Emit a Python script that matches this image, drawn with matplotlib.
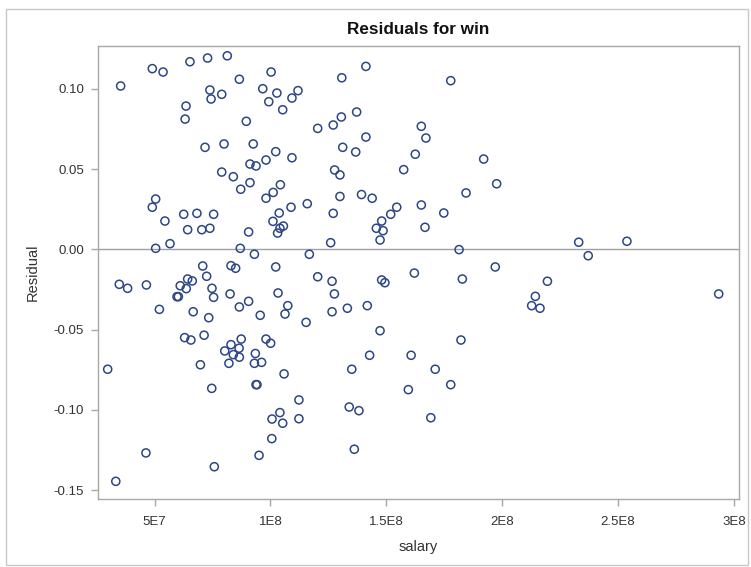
import numpy as np
import matplotlib
matplotlib.use('Agg')
import matplotlib.pyplot as plt
from matplotlib.patches import Rectangle

# %% data (salary in millions)

salary_m = [35.4, 49.05, 53.7, 65.3, 72.9, 81.4, 73.9, 74.4, 79.0, 63.6,
            63.2, 71.8, 80.0, 79.0, 50.5, 49.05,
            100.3, 86.6, 130.8, 96.7, 102.8, 99.3, 111.9, 109.3, 105.3, 89.6,
            120.4, 127.1, 130.6, 92.6, 131.2, 102.3, 98.1, 109.3, 91.2, 93.8,
            84.0, 127.7, 130.0, 91.2, 87.2, 104.3, 101.2, 98.1, 130.0, 115.9,
            108.9, 127.1, 103.8, 101.1, 105.6, 104.1, 103.1, 90.6, 126.0, 87.0,
            93.1, 116.8, 83.0, 85.0, 102.3, 120.4, 126.6, 82.6, 103.3, 127.6,
            90.6, 86.6, 107.5, 106.3, 95.6, 126.6, 133.2, 115.4, 87.4, 83.0,
            86.5, 98.1, 100.1, 80.3, 93.5, 84.0,
            54.5, 62.6, 68.3, 75.5, 64.3, 70.4, 73.9, 56.7, 50.5, 70.8,
            72.5, 34.8, 38.4, 46.5, 64.3, 66.3, 61.1, 63.7, 74.8, 75.5,
            59.7, 60.3, 52.1, 66.7, 73.4, 63.0, 65.7, 71.4,
            29.8, 69.8, 74.7, 46.3, 75.8, 33.3,
            86.6, 82.1, 93.1, 96.2, 105.9, 93.8, 94.2, 112.3, 104.1, 100.7,
            105.3, 112.3, 100.6, 95.1,
            141.2, 177.8, 137.2, 165.1, 167.1, 141.2, 136.8, 162.5, 157.5, 192.0,
            197.6, 184.4, 139.3, 143.9,
            154.5, 165.1, 151.9, 174.8, 148.0, 145.7, 148.6, 166.7, 147.3, 181.4,
            197.0, 162.1, 148.0, 149.4, 182.8, 141.8, 147.3, 182.2,
            142.8, 160.7, 135.1, 171.1, 177.8, 159.5, 134.0, 138.2, 169.2, 136.2,
            233.0, 253.8, 237.1, 219.5, 214.3, 212.7, 216.3, 293.4]

residual = [0.1017, 0.1125, 0.1104, 0.1168, 0.1191, 0.1205, 0.0992, 0.0936, 0.0965, 0.0892,
            0.0811, 0.0635, 0.0656, 0.0481, 0.0313, 0.0262,
            0.1104, 0.1059, 0.1068, 0.1000, 0.0973, 0.0919, 0.0988, 0.0942, 0.0869, 0.0797,
            0.0753, 0.0774, 0.0824, 0.0656, 0.0635, 0.0608, 0.0556, 0.0570, 0.0531, 0.0519,
            0.0452, 0.0494, 0.0463, 0.0415, 0.0374, 0.0402, 0.0354, 0.0318, 0.0329, 0.0284,
            0.0262, 0.0224, 0.0226, 0.0174, 0.0145, 0.0131, 0.0101, 0.0108, 0.0041, 0.0006,
            -0.0031, -0.0031, -0.0102, -0.0118, -0.0110, -0.0171, -0.0199, -0.0278, -0.0272, -0.0278,
            -0.0324, -0.0359, -0.0351, -0.0403, -0.0411, -0.0389, -0.0367, -0.0455, -0.0559, -0.0594,
            -0.0616, -0.0559, -0.0585, -0.0633, -0.0649, -0.0656,
            0.0176, 0.0218, 0.0224, 0.0218, 0.0122, 0.0122, 0.0131, 0.0035, 0.0006, -0.0104,
            -0.0168, -0.0218, -0.0243, -0.0222, -0.0185, -0.0197, -0.0227, -0.0245, -0.0243, -0.0299,
            -0.0295, -0.0295, -0.0374, -0.0389, -0.0426, -0.0550, -0.0565, -0.0535,
            -0.0747, -0.0719, -0.0866, -0.1268, -0.1354, -0.1445,
            -0.0672, -0.0710, -0.0710, -0.0704, -0.0776, -0.0843, -0.0843, -0.0938, -0.1017, -0.1057,
            -0.1083, -0.1055, -0.1179, -0.1283,
            0.1139, 0.1050, 0.0855, 0.0766, 0.0693, 0.0699, 0.0606, 0.0592, 0.0496, 0.0562,
            0.0408, 0.0351, 0.0341, 0.0318,
            0.0262, 0.0276, 0.0218, 0.0226, 0.0176, 0.0131, 0.0116, 0.0137, 0.0058, -0.0002,
            -0.0110, -0.0148, -0.0191, -0.0208, -0.0185, -0.0351, -0.0507, -0.0565,
            -0.0660, -0.0660, -0.0747, -0.0747, -0.0843, -0.0874, -0.0982, -0.1005, -0.1049, -0.1245,
            0.0044, 0.0050, -0.0040, -0.0199, -0.0293, -0.0351, -0.0367, -0.0278]

x_ticks = [5e7, 1e8, 1.5e8, 2e8, 2.5e8, 3e8]
x_tick_labels = ['5E7', '1E8', '1.5E8', '2E8', '2.5E8', '3E8']
y_ticks = [-0.15, -0.10, -0.05, 0.00, 0.05, 0.10]

# %% plot

plt.rcParams['font.family'] = ['Liberation Sans', 'DejaVu Sans']

salary = np.array(salary_m) * 1e6

fig = plt.figure(figsize=(7.51, 5.67), dpi=100)
ax = fig.add_axes([98/751, 1 - 499/567, 641/751, 453/567])

ax.axhline(0, color='#a0a0a0', linewidth=1, zorder=1)
ax.scatter(salary, residual, s=34, facecolors='none', edgecolors='#2c4686',
           linewidths=1.1, zorder=2)

ax.set_xlim(2.5625e7, 3.0215e8)
ax.set_ylim(-0.1555, 0.1266)
ax.set_xticks(x_ticks)
ax.set_xticklabels(x_tick_labels)
ax.set_yticks(y_ticks)
ax.set_yticklabels(['%.2f' % v for v in y_ticks])

for sp in ax.spines.values():
    sp.set_color('#a8a8a8')
    sp.set_linewidth(1)
ax.tick_params(colors='#a8a8a8', labelcolor='#333333', labelsize=9.5,
               length=5, width=1)
ax.tick_params(axis='x', pad=7)
ax.tick_params(axis='y', pad=5)

ax.set_xlabel('salary', fontsize=10.5, color='#333333', labelpad=9)
ax.set_ylabel('Residual', fontsize=10.5, color='#333333', labelpad=10)
ax.set_title('Residuals for win', fontsize=12.3, fontweight='bold',
             color='#111111', pad=9)

# light outer border round the whole graph
fig.patches.append(Rectangle((6/751, 2/567), 742/751, 556/567,
                             transform=fig.transFigure, fill=False,
                             edgecolor='#c8c8c8', linewidth=1))

fig.savefig('out.png', dpi=100)
